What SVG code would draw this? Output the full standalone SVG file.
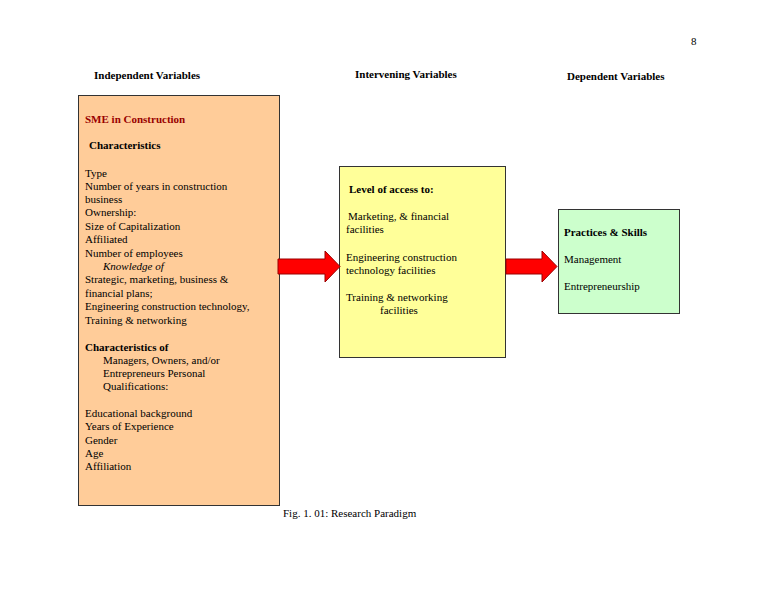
<svg xmlns="http://www.w3.org/2000/svg" width="768" height="594" viewBox="0 0 768 594">
<style>
text{font-family:"Liberation Serif","Times New Roman",serif;font-size:11px;fill:#000}
.b{font-weight:bold}
.box{stroke:#333;stroke-width:1}
.arr{fill:#f00;stroke:#900;stroke-width:1}
</style>
<rect width="768" height="594" fill="#fff"/>
<text x="691" y="45">8</text>
<text class="b" x="94" y="79">Independent   Variables</text>
<text class="b" x="355" y="78">Intervening Variables</text>
<text class="b" x="567" y="80">Dependent Variables</text>
<g id="independent">
<rect class="box" x="78.5" y="95.5" width="201" height="410" fill="#ffcc99"/>
<text class="b" x="85" y="123" fill="#990000" style="fill:#990000">SME in Construction</text>
<text class="b" x="89" y="149">Characteristics</text>
<text x="85" y="177">Type</text>
<text x="85" y="190">Number of  years in construction</text>
<text x="85" y="203">business</text>
<text x="85" y="216">Ownership:</text>
<text x="85" y="230">Size of Capitalization</text>
<text x="85" y="243">Affiliated</text>
<text x="85" y="257">Number of employees</text>
<text x="103" y="270" font-style="italic">Knowledge of</text>
<text x="85" y="283">Strategic, marketing, business &amp;</text>
<text x="85" y="297">financial plans;</text>
<text x="85" y="310">Engineering  construction  technology,</text>
<text x="85" y="324">Training &amp; networking</text>
<text class="b" x="85" y="351">Characteristics of</text>
<text x="103" y="364">Managers, Owners, and/or</text>
<text x="103" y="377">Entrepreneurs Personal</text>
<text x="103" y="390">Qualifications:</text>
<text x="85" y="417">Educational background</text>
<text x="85" y="430">Years of Experience</text>
<text x="85" y="444">Gender</text>
<text x="85" y="457">Age</text>
<text x="85" y="470">Affiliation</text>
</g>
<g id="intervening">
<rect class="box" x="339.5" y="166.5" width="166" height="191" fill="#ffff99"/>
<text class="b" x="349" y="193">Level of  access to:</text>
<text x="348" y="220">Marketing,  &amp; financial</text>
<text x="346" y="233">facilities</text>
<text x="346" y="261">Engineering  construction</text>
<text x="346" y="274">technology facilities</text>
<text x="346" y="301">Training &amp; networking</text>
<text x="380" y="314">facilities</text>
</g>
<g id="dependent">
<rect class="box" x="558.5" y="209.5" width="121" height="104" fill="#ccffcc"/>
<text class="b" x="564" y="236">Practices &amp; Skills</text>
<text x="564" y="263">Management</text>
<text x="564" y="290">Entrepreneurship</text>
</g>
<g id="connectors">
<path class="arr" d="M278,259H325V251L340,266.5L325,282V274H278Z"/>
<path class="arr" d="M506,259H542V251L557,266.5L542,282V274H506Z"/>
</g>
<text x="283" y="517">Fig. 1. 01:    Research Paradigm</text>
</svg>
